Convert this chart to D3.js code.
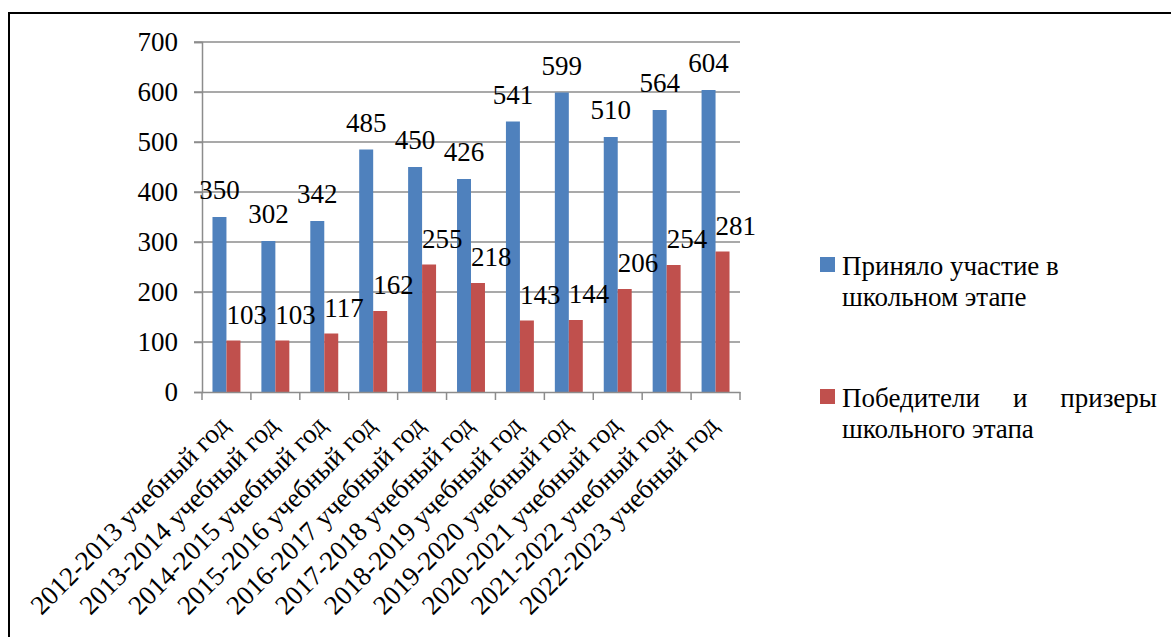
<!DOCTYPE html>
<html><head><meta charset="utf-8">
<script src="https://cdn.jsdelivr.net/npm/d3@7"></script>
<style>
html,body{margin:0;padding:0;background:#fff;}
svg text{font-family:"Liberation Serif","Tinos","Times New Roman",serif;}
</style></head>
<body><svg id="c" width="1171" height="637"></svg>
<script>
const categories = ["2012-2013 учебный год","2013-2014 учебный год","2014-2015 учебный год","2015-2016 учебный год","2016-2017 учебный год","2017-2018 учебный год","2018-2019 учебный год","2019-2020 учебный год","2020-2021 учебный год","2021-2022 учебный год","2022-2023 учебный год"];
const participated = [350,302,342,485,450,426,541,599,510,564,604];
const winners = [103,103,117,162,255,218,143,144,206,254,281];
const seriesNames = ["Приняло участие в школьном этапе","Победители и призеры школьного этапа"];
const yTicks = [0,100,200,300,400,500,600,700];
const colors = ["#4F81BD","#C0504D"];

(function(){
const svg = d3.select("#c");
const FF = '"Liberation Serif", "Tinos", "Times New Roman", serif';
const FS = 27;
const pLeft = 202, pRight = 740, pTop = 42, pBottom = 392;
const axisColor = "#8c8c8c";

// outer frame
svg.append("rect").attr("x",9).attr("y",13).attr("width",1200).attr("height",700)
  .attr("fill","none").attr("stroke","#000").attr("stroke-width",2);

const x = d3.scaleBand().domain(categories).range([pLeft,pRight]).paddingInner(0).paddingOuter(0);
const y = d3.scaleLinear().domain([0,700]).range([pBottom,pTop]);
const bw = x.bandwidth()/3.5;

// gridlines
svg.append("g").selectAll("line").data(yTicks.slice(1)).join("line")
  .attr("x1",pLeft-8).attr("x2",pRight).attr("y1",d=>y(d)).attr("y2",d=>y(d))
  .attr("stroke",axisColor).attr("stroke-width",1.5);

// y axis
const yAxis = svg.append("g").attr("transform",`translate(${pLeft},0)`)
  .call(d3.axisLeft(y).tickValues(yTicks).tickSize(8).tickPadding(16).tickFormat(d3.format("d")));
yAxis.attr("font-family",FF);
yAxis.select(".domain").attr("stroke",axisColor).attr("stroke-width",1.5);
yAxis.selectAll(".tick line").attr("stroke",axisColor).attr("stroke-width",1.5);
yAxis.selectAll("text").attr("font-size",FS).style("font-family",FF).attr("fill","#000");

// bars
const barLayer = svg.append("g");
barLayer.append("g").selectAll("rect").data(categories).join("rect")
  .attr("x",d=>x(d)+bw*0.75).attr("width",bw)
  .attr("y",(d,i)=>y(participated[i])).attr("height",(d,i)=>y(0)-y(participated[i]))
  .attr("fill",colors[0]);
barLayer.append("g").selectAll("rect").data(categories).join("rect")
  .attr("x",d=>x(d)+bw*1.75).attr("width",bw)
  .attr("y",(d,i)=>y(winners[i])).attr("height",(d,i)=>y(0)-y(winners[i]))
  .attr("fill",colors[1]);

// x axis
const xAxis = svg.append("g").attr("transform",`translate(0,${pBottom})`)
  .call(d3.axisBottom(x).tickSize(0).tickFormat(""));
xAxis.select(".domain").attr("stroke",axisColor).attr("stroke-width",1.5);
xAxis.selectAll(".tick").remove();
const bounds = categories.map(c=>x(c)).concat([pRight]);
xAxis.selectAll("line.b").data(bounds).join("line").attr("class","b")
  .attr("x1",d=>d).attr("x2",d=>d).attr("y1",0).attr("y2",8)
  .attr("stroke",axisColor).attr("stroke-width",1.5);

// category labels
svg.append("g").selectAll("text").data(categories).join("text")
  .attr("transform",d=>`translate(${x(d)+x.bandwidth()/2+4},${pBottom+35}) rotate(-45)`)
  .attr("text-anchor","end").attr("font-size",FS).style("font-family",FF).attr("fill","#000").text(d=>d);

// data labels (drawn above all bars)
const labelLayer = svg.append("g");
labelLayer.append("g").selectAll("text").data(categories).join("text")
  .attr("x",d=>x(d)+bw*1.25).attr("y",(d,i)=>y(participated[i])-18)
  .attr("text-anchor","middle").attr("font-size",FS).style("font-family",FF).attr("fill","#000")
  .text((d,i)=>participated[i]);
labelLayer.append("g").selectAll("text").data(categories).join("text")
  .attr("x",d=>x(d)+bw*1.75).attr("y",(d,i)=>y(winners[i])-17)
  .attr("text-anchor","start").attr("font-size",FS).style("font-family",FF).attr("fill","#000")
  .text((d,i)=>winners[i]);

// legend
const lg = svg.append("g");
const entries = [
  {c:colors[0], sy:257, lines:[["Приняло участие в"],["школьном этапе"]], by:275},
  {c:colors[1], sy:389, lines:[["Победители","и","призеры"],["школьного этапа"]], by:407}
];
const lx = 842, lright = 1157;
entries.forEach(e=>{
  lg.append("rect").attr("x",820).attr("y",e.sy).attr("width",15).attr("height",15).attr("fill",e.c);
  e.lines.forEach((words,li)=>{
    const by = e.by + li*31;
    if(words.length===1){
      lg.append("text").attr("x",lx).attr("y",by).attr("font-size",FS).style("font-family",FF).text(words[0]);
    } else {
      const ts = words.map(w=>lg.append("text").attr("y",by).attr("font-size",FS).style("font-family",FF).text(w));
      const widths = ts.map(t=>t.node().getComputedTextLength());
      const gap = (lright-lx-d3.sum(widths))/(words.length-1);
      let cx = lx;
      ts.forEach((t,k)=>{ t.attr("x",cx); cx += widths[k]+gap; });
    }
  });
});
})();
</script></body></html>
